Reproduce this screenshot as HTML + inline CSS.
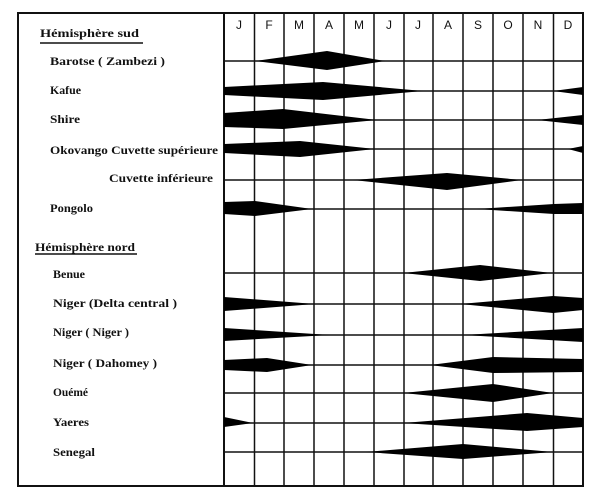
<!DOCTYPE html>
<html>
<head>
<meta charset="utf-8">
<style>
  html, body { margin: 0; padding: 0; background: #fff; }
  body { width: 600px; height: 498px; overflow: hidden; }
  svg { display: block; }
  .lbl { font-family: "Liberation Serif", serif; font-weight: bold; font-size: 12px; fill: #111; }
  .mon { font-family: "Liberation Sans", sans-serif; font-size: 12px; fill: #111; }
</style>
</head>
<body>
<svg width="600" height="498" viewBox="0 0 600 498" xmlns="http://www.w3.org/2000/svg">
  <rect x="0" y="0" width="600" height="498" fill="#fff"/>

  <!-- horizontal row lines -->
  <g stroke="#111" stroke-width="1.4">
    <line x1="224" y1="61" x2="583" y2="61"/>
    <line x1="224" y1="91" x2="583" y2="91"/>
    <line x1="224" y1="120" x2="583" y2="120"/>
    <line x1="224" y1="149" x2="583" y2="149"/>
    <line x1="224" y1="180" x2="583" y2="180"/>
    <line x1="224" y1="209" x2="583" y2="209"/>
    <line x1="224" y1="273" x2="583" y2="273"/>
    <line x1="224" y1="304" x2="583" y2="304"/>
    <line x1="224" y1="335" x2="583" y2="335"/>
    <line x1="224" y1="365" x2="583" y2="365"/>
    <line x1="224" y1="393" x2="583" y2="393"/>
    <line x1="224" y1="423" x2="583" y2="423"/>
    <line x1="224" y1="452" x2="583" y2="452"/>
  </g>

  <!-- vertical month lines -->
  <g stroke="#111" stroke-width="1.5">
    <line x1="254.5" y1="13" x2="254.5" y2="486"/>
    <line x1="284" y1="13" x2="284" y2="486"/>
    <line x1="314" y1="13" x2="314" y2="486"/>
    <line x1="344" y1="13" x2="344" y2="486"/>
    <line x1="374" y1="13" x2="374" y2="486"/>
    <line x1="404" y1="13" x2="404" y2="486"/>
    <line x1="433" y1="13" x2="433" y2="486"/>
    <line x1="463" y1="13" x2="463" y2="486"/>
    <line x1="493" y1="13" x2="493" y2="486"/>
    <line x1="523" y1="13" x2="523" y2="486"/>
    <line x1="553.5" y1="13" x2="553.5" y2="486"/>
  </g>

  <!-- outer frame and panel divider -->
  <g stroke="#111" stroke-width="2" fill="none">
    <rect x="18" y="13" width="565" height="473"/>
    <line x1="224" y1="13" x2="224" y2="486"/>
  </g>

  <!-- month letters -->
  <g class="mon" text-anchor="middle">
    <text x="239" y="29">J</text>
    <text x="269" y="29">F</text>
    <text x="299" y="29">M</text>
    <text x="329" y="29">A</text>
    <text x="359" y="29">M</text>
    <text x="389" y="29">J</text>
    <text x="418" y="29">J</text>
    <text x="448" y="29">A</text>
    <text x="478" y="29">S</text>
    <text x="508" y="29">O</text>
    <text x="538" y="29">N</text>
    <text x="568" y="29">D</text>
  </g>

  <!-- labels -->
  <g class="lbl">
    <text x="40" y="37" textLength="99" lengthAdjust="spacingAndGlyphs">Hémisphère sud</text>
    <text x="50" y="65" textLength="115" lengthAdjust="spacingAndGlyphs">Barotse ( Zambezi )</text>
    <text x="50" y="94" textLength="31" lengthAdjust="spacingAndGlyphs">Kafue</text>
    <text x="50" y="123" textLength="30" lengthAdjust="spacingAndGlyphs">Shire</text>
    <text x="50" y="154" textLength="168" lengthAdjust="spacingAndGlyphs">Okovango Cuvette supérieure</text>
    <text x="109" y="182" textLength="104" lengthAdjust="spacingAndGlyphs">Cuvette inférieure</text>
    <text x="50" y="212" textLength="43" lengthAdjust="spacingAndGlyphs">Pongolo</text>
    <text x="35" y="251" textLength="100" lengthAdjust="spacingAndGlyphs">Hémisphère nord</text>
    <text x="53" y="278" textLength="32" lengthAdjust="spacingAndGlyphs">Benue</text>
    <text x="53" y="307" textLength="124" lengthAdjust="spacingAndGlyphs">Niger (Delta central )</text>
    <text x="53" y="336" textLength="76" lengthAdjust="spacingAndGlyphs">Niger ( Niger )</text>
    <text x="53" y="367" textLength="104" lengthAdjust="spacingAndGlyphs">Niger ( Dahomey )</text>
    <text x="53" y="396" textLength="35" lengthAdjust="spacingAndGlyphs">Ouémé</text>
    <text x="53" y="426" textLength="36" lengthAdjust="spacingAndGlyphs">Yaeres</text>
    <text x="53" y="456" textLength="42" lengthAdjust="spacingAndGlyphs">Senegal</text>
  </g>
  <g stroke="#111" stroke-width="1.6">
    <line x1="40" y1="43" x2="143" y2="43"/>
    <line x1="35" y1="254" x2="137" y2="254"/>
  </g>

  <!-- flood diamonds -->
  <g fill="#000">
    <!-- Barotse -->
    <polygon points="255,61 327,51 385,61 327,70"/>
    <!-- Kafue -->
    <polygon points="224,87 323,82 423,91 323,100 224,95"/>
    <polygon points="553,91 583,87 583,95"/>
    <!-- Shire -->
    <polygon points="224,113 283,109 377,120 283,129 224,127"/>
    <polygon points="537,120 583,115 583,125"/>
    <!-- Okovango sup -->
    <polygon points="224,144 300,141 375,149 300,157 224,153"/>
    <polygon points="568,149 583,146 583,153"/>
    <!-- Cuvette inf -->
    <polygon points="353,180 447,173 522,180 447,190"/>
    <!-- Pongolo -->
    <polygon points="224,202 255,201 312,209 255,216 224,214"/>
    <polygon points="477,209 554,204 583,203 583,214 554,214"/>
    <!-- Benue -->
    <polygon points="403,273 480,265 552,273 480,281"/>
    <!-- Niger delta central -->
    <polygon points="224,297 315,304 224,311"/>
    <polygon points="460,304 553,296 583,298 583,310 553,313"/>
    <!-- Niger Niger -->
    <polygon points="224,328 330,335 224,341"/>
    <polygon points="463,335 583,328 583,342"/>
    <!-- Niger Dahomey -->
    <polygon points="224,360 267,358 312,365 267,372 224,370"/>
    <polygon points="430,365 493,357 583,359 583,372 493,373"/>
    <!-- Oueme -->
    <polygon points="403,393 493,384 553,393 493,402"/>
    <!-- Yaeres -->
    <polygon points="224,417 253,423 224,427"/>
    <polygon points="403,423 527,413 583,418 583,427 527,431"/>
    <!-- Senegal -->
    <polygon points="366,452 463,444 553,452 463,459"/>
  </g>
</svg>
</body>
</html>
